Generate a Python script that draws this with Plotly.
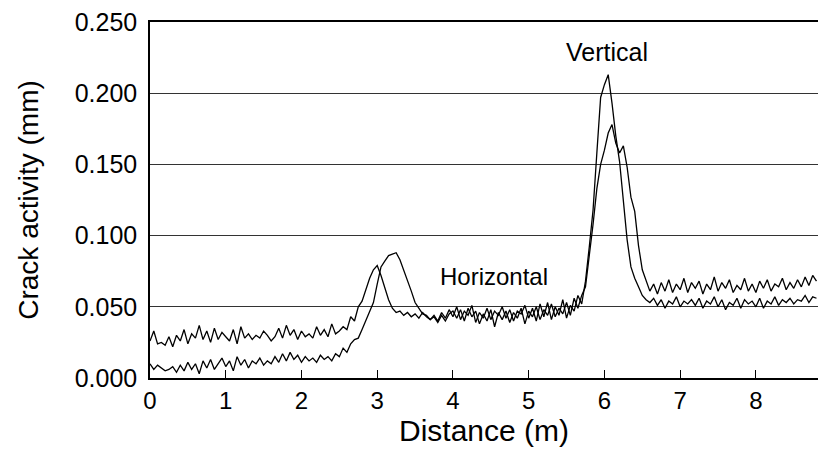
import plotly.graph_objects as go

distance = [
    0.00, 0.05, 0.10, 0.15, 0.20, 0.25, 0.30, 0.35, 0.40, 0.45,
    0.50, 0.55, 0.60, 0.65, 0.70, 0.75, 0.80, 0.85, 0.90, 0.95,
    1.00, 1.05, 1.10, 1.15, 1.20, 1.25, 1.30, 1.35, 1.40, 1.45,
    1.50, 1.55, 1.60, 1.65, 1.70, 1.75, 1.80, 1.85, 1.90, 1.95,
    2.00, 2.05, 2.10, 2.15, 2.20, 2.25, 2.30, 2.35, 2.40, 2.45,
    2.50, 2.55, 2.60, 2.65, 2.70, 2.75, 2.80, 2.85, 2.90, 2.95,
    3.00, 3.05, 3.10, 3.15, 3.20, 3.25, 3.30, 3.35, 3.40, 3.45,
    3.50, 3.55, 3.60, 3.65, 3.70, 3.75, 3.80, 3.85, 3.90, 3.95,
    4.00, 4.05, 4.10, 4.15, 4.20, 4.25, 4.30, 4.35, 4.40, 4.45,
    4.50, 4.55, 4.60, 4.65, 4.70, 4.75, 4.80, 4.85, 4.90, 4.95,
    5.00, 5.05, 5.10, 5.15, 5.20, 5.25, 5.30, 5.35, 5.40, 5.45,
    5.50, 5.55, 5.60, 5.65, 5.70, 5.75, 5.80, 5.85, 5.90, 5.95,
    6.00, 6.05, 6.10, 6.15, 6.20, 6.25, 6.30, 6.35, 6.40, 6.45,
    6.50, 6.55, 6.60, 6.65, 6.70, 6.75, 6.80, 6.85, 6.90, 6.95,
    7.00, 7.05, 7.10, 7.15, 7.20, 7.25, 7.30, 7.35, 7.40, 7.45,
    7.50, 7.55, 7.60, 7.65, 7.70, 7.75, 7.80, 7.85, 7.90, 7.95,
    8.00, 8.05, 8.10, 8.15, 8.20, 8.25, 8.30, 8.35, 8.40, 8.45,
    8.50, 8.55, 8.60, 8.65, 8.70, 8.75, 8.80,
]

scan_a = [
    0.026, 0.033, 0.024, 0.025, 0.023, 0.029, 0.022, 0.030, 0.026, 0.034,
    0.024, 0.031, 0.028, 0.037, 0.027, 0.033, 0.025, 0.035, 0.027, 0.032,
    0.029, 0.026, 0.034, 0.024, 0.036, 0.028, 0.031, 0.027, 0.030, 0.028,
    0.033, 0.030, 0.026, 0.029, 0.035, 0.028, 0.037, 0.030, 0.034, 0.027,
    0.033, 0.029, 0.031, 0.028, 0.036, 0.030, 0.034, 0.029, 0.038, 0.031,
    0.033, 0.036, 0.034, 0.043, 0.040, 0.050, 0.054, 0.062, 0.070, 0.076,
    0.079, 0.072, 0.064, 0.055, 0.049, 0.046, 0.047, 0.044, 0.046, 0.043,
    0.045, 0.042, 0.046, 0.043, 0.041, 0.044, 0.040, 0.046, 0.042, 0.048,
    0.043, 0.050, 0.041, 0.047, 0.044, 0.051, 0.039, 0.046, 0.042, 0.049,
    0.041, 0.047, 0.044, 0.050, 0.042, 0.048, 0.040, 0.047, 0.045, 0.051,
    0.042, 0.049, 0.040, 0.052, 0.043, 0.053, 0.041, 0.050, 0.044, 0.055,
    0.042, 0.051, 0.047, 0.058, 0.052, 0.068, 0.092, 0.118, 0.158, 0.197,
    0.206, 0.213, 0.193, 0.170, 0.152, 0.122, 0.097, 0.078, 0.070, 0.064,
    0.058, 0.055, 0.053, 0.056, 0.051, 0.055, 0.049, 0.054, 0.052, 0.057,
    0.050, 0.054, 0.052, 0.055, 0.051, 0.056, 0.049, 0.054, 0.052, 0.057,
    0.050, 0.055, 0.048, 0.053, 0.051, 0.056, 0.049, 0.055, 0.052, 0.054,
    0.050, 0.056, 0.049, 0.054, 0.052, 0.057, 0.051, 0.055, 0.053, 0.056,
    0.052, 0.055, 0.054, 0.058, 0.053, 0.057, 0.056,
]

scan_b = [
    0.010, 0.006, 0.009, 0.007, 0.005, 0.006, 0.008, 0.004, 0.009, 0.005,
    0.011, 0.006, 0.010, 0.003, 0.012, 0.007, 0.013, 0.006, 0.010, 0.014,
    0.008, 0.012, 0.005, 0.015, 0.009, 0.013, 0.007, 0.012, 0.010, 0.014,
    0.009, 0.012, 0.010, 0.015, 0.011, 0.017, 0.012, 0.018, 0.013, 0.016,
    0.011, 0.015, 0.012, 0.014, 0.011, 0.016, 0.013, 0.015, 0.012, 0.017,
    0.015, 0.021, 0.018, 0.024, 0.027, 0.028, 0.034, 0.040, 0.046, 0.053,
    0.066, 0.078, 0.082, 0.086, 0.087, 0.088, 0.083, 0.076, 0.069, 0.061,
    0.053, 0.049, 0.045, 0.044, 0.041, 0.043, 0.039, 0.044, 0.040, 0.045,
    0.047, 0.042, 0.048, 0.040, 0.049, 0.043, 0.047, 0.038, 0.045, 0.040,
    0.048, 0.036, 0.046, 0.041, 0.047, 0.039, 0.046, 0.042, 0.049, 0.038,
    0.047, 0.043, 0.050, 0.041, 0.048, 0.044, 0.052, 0.043, 0.049, 0.045,
    0.053, 0.044, 0.056, 0.049, 0.058, 0.064, 0.085, 0.108, 0.133, 0.150,
    0.160, 0.172, 0.178, 0.165, 0.158, 0.163, 0.148, 0.127, 0.117, 0.093,
    0.076, 0.068, 0.061, 0.066, 0.059, 0.067, 0.061, 0.069, 0.060, 0.066,
    0.062, 0.070, 0.060, 0.067, 0.063, 0.068, 0.059, 0.066, 0.062, 0.071,
    0.061, 0.067, 0.063, 0.069, 0.060, 0.065, 0.062, 0.070, 0.061, 0.066,
    0.060, 0.068, 0.063, 0.069, 0.061, 0.066, 0.064, 0.070, 0.062, 0.067,
    0.063, 0.069, 0.064, 0.071, 0.065, 0.072, 0.068,
]

y_ticks = [0.000, 0.050, 0.100, 0.150, 0.200, 0.250]
x_ticks = [0, 1, 2, 3, 4, 5, 6, 7, 8]

FONT = "Liberation Sans, Arial, sans-serif"

fig = go.Figure()
for series in (scan_a, scan_b):
    fig.add_trace(go.Scatter(
        x=distance, y=series, mode="lines",
        line=dict(color="black", width=1.3),
        showlegend=False, hoverinfo="skip",
    ))

fig.add_annotation(x=6.03, y=0.229, text="Vertical", showarrow=False,
                   font=dict(family=FONT, size=25, color="black"))
fig.add_annotation(x=4.54, y=0.071, text="Horizontal", showarrow=False,
                   font=dict(family=FONT, size=24, color="black"))

fig.update_layout(
    width=818, height=462,
    margin=dict(l=150, r=0, t=22, b=84),
    paper_bgcolor="white", plot_bgcolor="white",
    font=dict(family=FONT, color="black"),
    xaxis=dict(
        range=[0, 8.82], tickvals=x_ticks, ticktext=[str(v) for v in x_ticks],
        ticks="inside", ticklen=8, tickwidth=1, tickcolor="black",
        showgrid=False, zeroline=False, mirror=True,
        showline=True, linecolor="black", linewidth=1.5,
        tickfont=dict(size=24, family=FONT), ticklabelstandoff=0,
        title=dict(text="Distance (m)", font=dict(size=30, family=FONT), standoff=6),
    ),
    yaxis=dict(
        range=[0, 0.25], tickvals=y_ticks, tickformat=".3f",
        ticks="", showgrid=True, gridcolor="#333333", gridwidth=1,
        zeroline=False, showline=True, linecolor="black", linewidth=1.5,
        tickfont=dict(size=25, family=FONT), ticklabelstandoff=6,
        title=dict(text="Crack activity (mm)", font=dict(size=28, family=FONT), standoff=28),
    ),
)

fig.write_html("out.html")
